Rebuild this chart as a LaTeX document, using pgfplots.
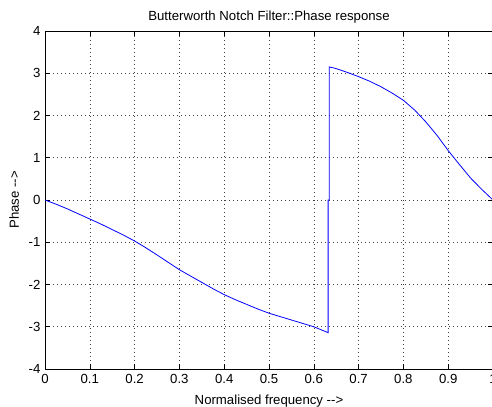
\documentclass[border=0pt]{standalone}
\usepackage{pgfplots}
\pgfplotsset{compat=1.18}
\usepackage{fontspec}
\setmainfont{Liberation Sans}
\begin{document}
\begin{tikzpicture}
\begin{axis}[
  at={(45bp,38bp)}, anchor=south west,
  scale only axis, width=448bp, height=338bp,
  xmin=0, xmax=1, ymin=-4, ymax=4,
  xtick={0,0.1,...,1.0001}, ytick={-4,-3,...,4},
  xticklabels={0,0.1,0.2,0.3,0.4,0.5,0.6,0.7,0.8,0.9,1},
  /pgf/number format/assume math mode=true,
  tick align=inside, major tick length=5bp,
  tick style={black, line width=0.6bp},
  axis line style={black, line width=0.6bp},
  grid=major, grid style={black!75, line width=0.6bp, dash pattern=on 0.8bp off 3.2bp},
  ticklabel style={font=\fontsize{13.2bp}{15bp}\selectfont},
  xticklabel style={yshift=-2bp},
  yticklabel style={xshift=-1bp},
  title={Butterworth Notch Filter::Phase response},
  title style={font=\fontsize{13.2bp}{15bp}\selectfont, yshift=-2bp},
  xlabel={Normalised frequency -{}-{}>},
  ylabel={Phase -{}-{}>},
  label style={font=\fontsize{13.2bp}{15bp}\selectfont},
  xlabel style={yshift=-4bp},
  ylabel style={yshift=3bp},
]
\addplot[blue, line width=0.8bp] coordinates {
(0,0) (0.025,-0.10) (0.05,-0.21) (0.075,-0.33) (0.1,-0.45) (0.125,-0.57) (0.15,-0.70) (0.175,-0.83) (0.2,-0.97)
(0.225,-1.13) (0.25,-1.30) (0.275,-1.475) (0.3,-1.65) (0.325,-1.80) (0.35,-1.95) (0.375,-2.10) (0.4,-2.24)
(0.425,-2.36) (0.45,-2.47) (0.475,-2.58) (0.5,-2.68) (0.525,-2.76) (0.55,-2.84) (0.575,-2.92) (0.6,-3.0)
(0.632,-3.14) (0.632,0) (0.6345,0) (0.6345,3.15)
(0.65,3.11) (0.675,3.02) (0.7,2.92) (0.725,2.81) (0.75,2.68) (0.775,2.53) (0.8,2.36) (0.825,2.13)
(0.85,1.85) (0.875,1.53) (0.9,1.17) (0.925,0.84) (0.95,0.52) (0.975,0.25) (1,0)
};
\end{axis}
\pgfresetboundingbox
\path[use as bounding box] (0,0) rectangle (492bp,407bp);
\end{tikzpicture}
\end{document}
